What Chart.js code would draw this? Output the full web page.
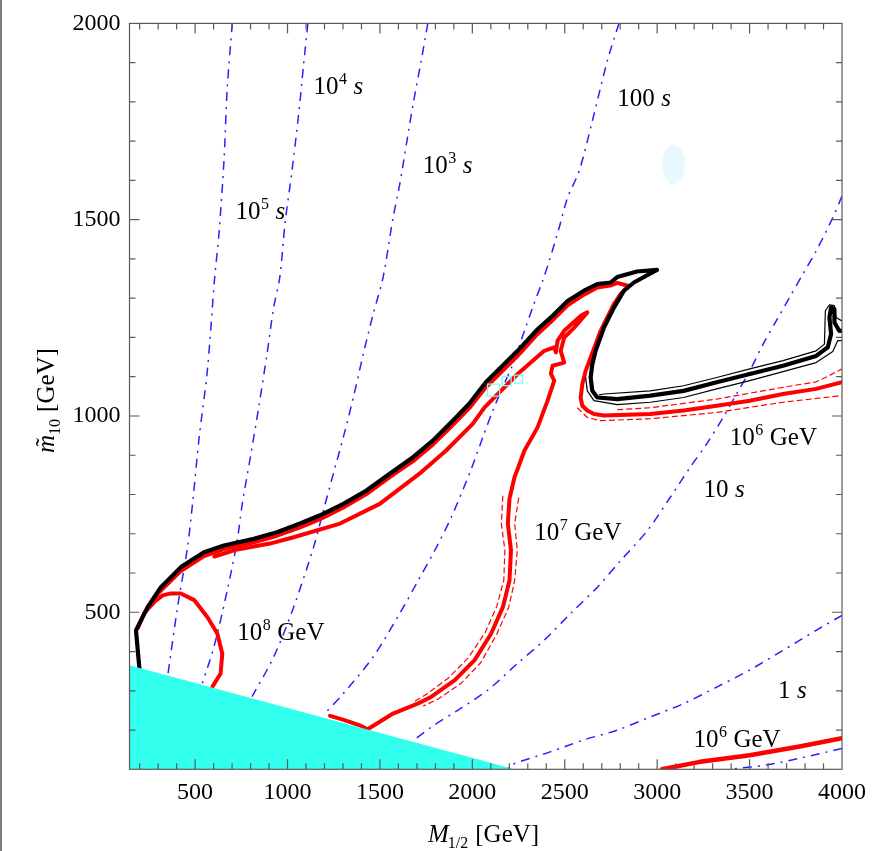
<!DOCTYPE html>
<html><head><meta charset="utf-8">
<script src="https://cdn.jsdelivr.net/npm/chart.js@4.4.1/dist/chart.umd.min.js"></script>
<style>
html,body{margin:0;padding:0;background:#fff;}
#wrap{position:relative;width:875px;height:851px;overflow:hidden;}
#edge{position:absolute;left:0;top:0;width:2px;height:851px;background:#7a7a7a;}
canvas{position:absolute;left:0;top:0;}
</style></head><body>
<div id="wrap"><canvas id="c" width="875" height="851"></canvas><div id="edge"></div></div>
<script>
// ---- axes ----
const xMin = 145, xMax = 4000, yMin = 100, yMax = 2000;
const xTicks = [500,1000,1500,2000,2500,3000,3500,4000];
const yTicks = [500,1000,1500,2000];
const minorStep = 100;

// ---- lifetime contours (blue dash-dot) ----
const tau1e5_x = [701,674,656,629,606,566,522,486,459,405,351];
const tau1e5_y = [2000,1836,1649,1464,1353,1115,946,777,666,513,336];
const tau1e4_x = [1110,1087,1060,1024,988,958,925,889,844,799,755,728,674,602,539];
const tau1e4_y = [2000,1895,1768,1624,1497,1353,1276,1158,1022,895,776,683,556,412,319];
const tau1e3_x = [1759,1723,1679,1643,1607,1571,1517,1463,1410,1356,1302,1248,1194,1141,1033,925,808];
const tau1e3_y = [2000,1904,1793,1692,1590,1505,1353,1259,1158,1047,946,853,759,666,513,386,285];
const tau100_x = [2793,2730,2649,2578,2515,2470,2416,2380,2326,2282,2219,2156,2111,2057,1994,1886,1797,1707,1607,1463,1302,1194];
const tau100_y = [2000,1904,1751,1624,1556,1480,1395,1344,1276,1217,1132,1064,1014,946,865,742,658,581,497,386,293,238];
const tau10_x = [4000,3950,3860,3788,3716,3645,3573,3501,3429,3358,3268,3178,3071,2947,2803,2676,2532,2389,2245,2084,1923,1779,1686];
const tau10_y = [1560,1505,1420,1361,1302,1243,1183,1115,1056,997,929,869,793,708,632,564,497,429,370,302,251,208,175];
const tau1_x = [4000,3860,3681,3501,3325,3146,2966,2786,2604,2425,2209,2191];
const tau1_y = [492,454,403,353,310,268,234,200,175,145,111,100];
const tauLow_x = [4000,3770,3591,3393];
const tauLow_y = [153,128,111,100];

// ---- black contour (thick) and its thin band ----
const blk_x = [199,180,243,315,423,548,656,818,943,1068,1176,1302,1427,1553,1679,1786,1894,1983,2073,2245,2353,2425,2515,2604,2676,2748,2784,2891,2999,2874,2820,2766,2712,2667,2649,2640,2649,2676,2784,2963,3143,3322,3501,3681,3860,3923,3941,3932,3941,3959,3959,3985,4000];
const blk_y = [355,454,513,564,615,653,670,687,704,726,747,776,810,853,895,937,988,1031,1086,1166,1221,1251,1293,1319,1336,1340,1354,1368,1372,1340,1319,1276,1225,1166,1132,1098,1064,1047,1043,1052,1064,1086,1107,1128,1153,1175,1209,1251,1276,1272,1238,1217,1217];
const blkIn_x = [2687,2712,2963,3143,3322,3501,3681,3860,3905,3910,3932,3959,3968,4000];
const blkIn_y = [1054,1056,1064,1077,1098,1120,1141,1166,1183,1268,1283,1281,1251,1242];
const blkOut_x = [2613,2622,2658,2784,2963,3143,3322,3501,3681,3860,3950,3977,4000];
const blkOut_y = [1098,1064,1039,1029,1035,1047,1069,1090,1113,1136,1164,1192,1192];

// ---- red contours ----
const redUp_x = [230,300,420,548,656,818,943,1068,1176,1302,1427,1553,1679,1786,1894,1983,2073,2245,2353,2425,2515,2604,2676,2746,2784,2847,2828,2801,2766,2730,2694,2667,2640,2613,2595,2586,2595,2622,2658,2712,2963,3143,3322,3501,3681,3860,4000];
const redUp_y = [500,548,604,643,661,678,695,716,737,767,801,844,885,927,977,1020,1073,1153,1209,1240,1282,1309,1327,1332,1339,1331,1323,1310,1285,1251,1217,1183,1149,1115,1081,1047,1026,1014,1005,1001,1005,1014,1026,1039,1056,1069,1086];
const redUpDashA_x = [2784,2963,3322,3681,3860,3932,4000];
const redUpDashA_y = [1016,1021,1043,1073,1087,1103,1120];
const redUpDashB_x = [2568,2622,2694,2963,3322,3681,4000];
const redUpDashB_y = [1021,996,988,993,1009,1035,1052];
const red7_x = [604,728,905,1033,1284,1499,1714,1858,2002,2066,2245,2389,2443,2452,2461,2497,2586,2622,2551,2497,2478,2497,2434,2425,2443,2407,2353,2282,2245,2228,2201,2192,2209,2201,2165,2102,2012,1905,1779,1707,1571,1427];
const red7_y = [642,660,675,691,726,776,853,912,980,1022,1107,1166,1175,1162,1192,1217,1255,1264,1225,1200,1166,1136,1128,1107,1090,1039,971,912,865,844,789,726,658,581,513,446,378,327,285,268,242,200];
const red7DashA_x = [2165,2157,2176,2170,2132,2068,1976,1869,1745,1680];
const red7DashA_y = [797,726,658,581,515,447,383,332,289,271];
const red7DashB_x = [2251,2229,2243,2229,2197,2132,2046,1939,1815,1734];
const red7DashB_y = [792,726,658,581,513,444,372,319,279,261];
const redBump_x = [1230,1304,1391,1427];
const redBump_y = [236,226,212,203];
const red8_x = [190,227,279,324,369,423,495,566,620,647,638,593];
const red8_y = [460,500,526,543,548,548,531,488,446,395,344,310];
const red6_x = [3026,3232,3501,3770,4000];
const red6_y = [100,119,136,158,179];

// ---- excluded region (cyan) ----
const cyan_x = [145,2228];
const cyan_y = [365,100];

// ---- small markers ----
const sq_x = [2115,2185,2250];
const sq_y = [1066,1089,1094];
const sq_r = [8.5,6.4,5.7];
const blob = {x:3089, y:1640, rx:63, ry:50};

// ---- annotations ----
const labelBase = ['10','10','10','100','10','10','10','1','10','10'];
const labelSup  = ['4','5','3','','6','','7','','6','8'];
const labelUnit = ['s','s','s','s','GeV','s','GeV','s','GeV','GeV'];
const labelX = [1140,718,1732,2784,3393,3250,2335,3654,3196,728];
const labelY = [1820,1501,1620,1789,925,793,683,281,158,429];

const BLUE = 'rgb(35,35,255)', RED = 'rgb(255,0,0)', BLACK = '#000', CYAN = 'rgb(51,255,238)';
const SERIF = 'Liberation Serif';

function pts(xs, ys){ return xs.map((x,i)=>({x:x, y:ys[i]})); }
function ln(xs, ys, color, width, extra){
  return Object.assign({data:pts(xs,ys), showLine:true, borderColor:color, backgroundColor:color,
    borderWidth:width, pointRadius:0, pointHoverRadius:0, fill:false, tension:0,
    borderJoinStyle:'round', borderCapStyle:'round'}, extra||{});
}
const dd = {borderDash:[9,6,2,6], borderCapStyle:'butt', tension:0.3, order:4};
const rd = {borderDash:[6,3], borderCapStyle:'butt', order:3};

const datasets = [
  Object.assign(ln(cyan_x, cyan_y, CYAN, 0), {fill:'start', backgroundColor:CYAN, order:0}),
  ln(tau1e5_x, tau1e5_y, BLUE, 1.5, dd),
  ln(tau1e4_x, tau1e4_y, BLUE, 1.5, dd),
  ln(tau1e3_x, tau1e3_y, BLUE, 1.5, dd),
  ln(tau100_x, tau100_y, BLUE, 1.5, dd),
  ln(tau10_x, tau10_y, BLUE, 1.5, dd),
  ln(tau1_x, tau1_y, BLUE, 1.5, dd),
  ln(tauLow_x, tauLow_y, BLUE, 1.5, dd),
  ln(redUpDashA_x, redUpDashA_y, RED, 1.2, rd),
  ln(redUpDashB_x, redUpDashB_y, RED, 1.2, rd),
  ln(red7DashA_x, red7DashA_y, RED, 1.2, rd),
  ln(red7DashB_x, red7DashB_y, RED, 1.2, rd),
  ln(redUp_x, redUp_y, RED, 4, {order:2}),
  ln(red7_x, red7_y, RED, 4, {order:2}),
  ln(redBump_x, redBump_y, RED, 4, {order:2}),
  ln(red8_x, red8_y, RED, 4, {order:2}),
  ln(red6_x, red6_y, RED, 4.5, {order:2}),
  ln(blkIn_x, blkIn_y, BLACK, 1.2, {order:1}),
  ln(blkOut_x, blkOut_y, BLACK, 1.2, {order:1}),
  ln(blk_x, blk_y, BLACK, 4.2, {order:1}),
  {data:pts(sq_x, sq_y), showLine:false, pointStyle:'rect', pointRadius:sq_r, pointBorderColor:'rgb(120,255,245)',
   pointBackgroundColor:'rgba(0,0,0,0)', pointBorderWidth:1.3, order:0}
];

const blobPlugin = {
  id:'blob',
  beforeDatasetsDraw(chart){
    const {ctx, scales:{x, y}} = chart;
    const cx = x.getPixelForValue(blob.x), cy = y.getPixelForValue(blob.y);
    const rx = Math.abs(x.getPixelForValue(blob.x + blob.rx) - cx);
    const ry = Math.abs(y.getPixelForValue(blob.y + blob.ry) - cy);
    ctx.save();
    ctx.fillStyle = 'rgb(234,248,255)';
    ctx.beginPath(); ctx.ellipse(cx, cy, rx, ry, 0, 0, Math.PI*2); ctx.fill();
    ctx.restore();
  }
};

const framePlugin = {
  id:'frame',
  afterDatasetsDraw(chart){
    const {ctx, chartArea:a, scales:{x, y}} = chart;
    ctx.save();
    ctx.strokeStyle = '#5a5a5a'; ctx.lineWidth = 1.2;
    ctx.strokeRect(a.left, a.top, a.right - a.left, a.bottom - a.top);
    ctx.beginPath();
    for (let v = Math.ceil(xMin/minorStep)*minorStep; v < xMax; v += minorStep){
      const p = x.getPixelForValue(v), L = (v % 500 === 0) ? 10 : 6;
      ctx.moveTo(p, a.bottom); ctx.lineTo(p, a.bottom - L);
      ctx.moveTo(p, a.top); ctx.lineTo(p, a.top + L);
    }
    for (let v = yMin + minorStep; v < yMax; v += minorStep){
      const p = y.getPixelForValue(v), L = (v % 500 === 0) ? 10 : 6;
      ctx.moveTo(a.left, p); ctx.lineTo(a.left + L, p);
      ctx.moveTo(a.right, p); ctx.lineTo(a.right - L, p);
    }
    ctx.stroke();
    ctx.restore();
  }
};

const textPlugin = {
  id:'texts',
  afterDraw(chart){
    const {ctx, scales:{x, y}} = chart;
    ctx.save();
    ctx.fillStyle = '#000';
    ctx.textBaseline = 'alphabetic';
    ctx.textAlign = 'left';
    // annotations
    for (let i = 0; i < labelBase.length; i++){
      let px = x.getPixelForValue(labelX[i]);
      const py = y.getPixelForValue(labelY[i]);
      ctx.font = '25px ' + SERIF;
      ctx.fillText(labelBase[i], px, py);
      px += ctx.measureText(labelBase[i]).width;
      if (labelSup[i]){
        ctx.font = '16px ' + SERIF;
        ctx.fillText(labelSup[i], px + 0.5, py - 10);
        px += ctx.measureText(labelSup[i]).width + 0.5;
      }
      px += 6.5;
      if (labelUnit[i] === 's'){ ctx.font = 'italic 25px ' + SERIF; }
      else { ctx.font = '25px ' + SERIF; }
      ctx.fillText(labelUnit[i], px, py);
    }
    // x axis title
    let tx = 428, ty = 841.5;
    ctx.font = 'italic 25px ' + SERIF;
    ctx.fillText('M', tx, ty); tx += ctx.measureText('M').width - 1;
    ctx.font = '16px ' + SERIF;
    ctx.fillText('1/2', tx, ty + 6); tx += ctx.measureText('1/2').width + 7;
    ctx.font = '25px ' + SERIF;
    ctx.fillText('[GeV]', tx, ty);
    // y axis title (rotated)
    ctx.translate(54, 453);
    ctx.rotate(-Math.PI/2);
    let ux = 0;
    ctx.font = 'italic 25px ' + SERIF;
    ctx.fillText('m', ux, 0);
    const mw = ctx.measureText('m').width;
    ctx.font = '25px ' + SERIF;
    ctx.textAlign = 'center';
    ctx.fillText('\u02DC', ux + mw/2 + 2, -1);
    ctx.textAlign = 'left';
    ux += mw;
    ctx.font = '16px ' + SERIF;
    ctx.fillText('10', ux, 6); ux += ctx.measureText('10').width + 7;
    ctx.font = '25px ' + SERIF;
    ctx.fillText('[GeV]', ux, 0);
    ctx.restore();
  }
};

new Chart(document.getElementById('c'), {
  type:'scatter',
  data:{datasets:datasets},
  options:{
    responsive:false, animation:false, devicePixelRatio:1,
    layout:{padding:{top:21.7, right:28.5, left:0, bottom:0}},
    plugins:{legend:{display:false}, tooltip:{enabled:false}},
    scales:{
      x:{type:'linear', min:xMin, max:xMax, position:'bottom',
         grid:{display:false, drawTicks:false}, border:{display:false},
         ticks:{font:{family:SERIF, size:24}, color:'#000', padding:9, maxRotation:0, autoSkip:false,
                callback:v=>String(v)},
         afterBuildTicks:s=>{ s.ticks = xTicks.map(v=>({value:v})); },
         afterFit:s=>{ s.height = 81.7; }},
      y:{type:'linear', min:yMin, max:yMax, position:'left',
         grid:{display:false, drawTicks:false}, border:{display:false},
         ticks:{font:{family:SERIF, size:24}, color:'#000', padding:9, autoSkip:false,
                callback:v=>String(v)},
         afterBuildTicks:s=>{ s.ticks = yTicks.map(v=>({value:v})); },
         afterFit:s=>{ s.width = 129.5; }}
    }
  },
  plugins:[blobPlugin, framePlugin, textPlugin]
});
</script>
</body></html>
